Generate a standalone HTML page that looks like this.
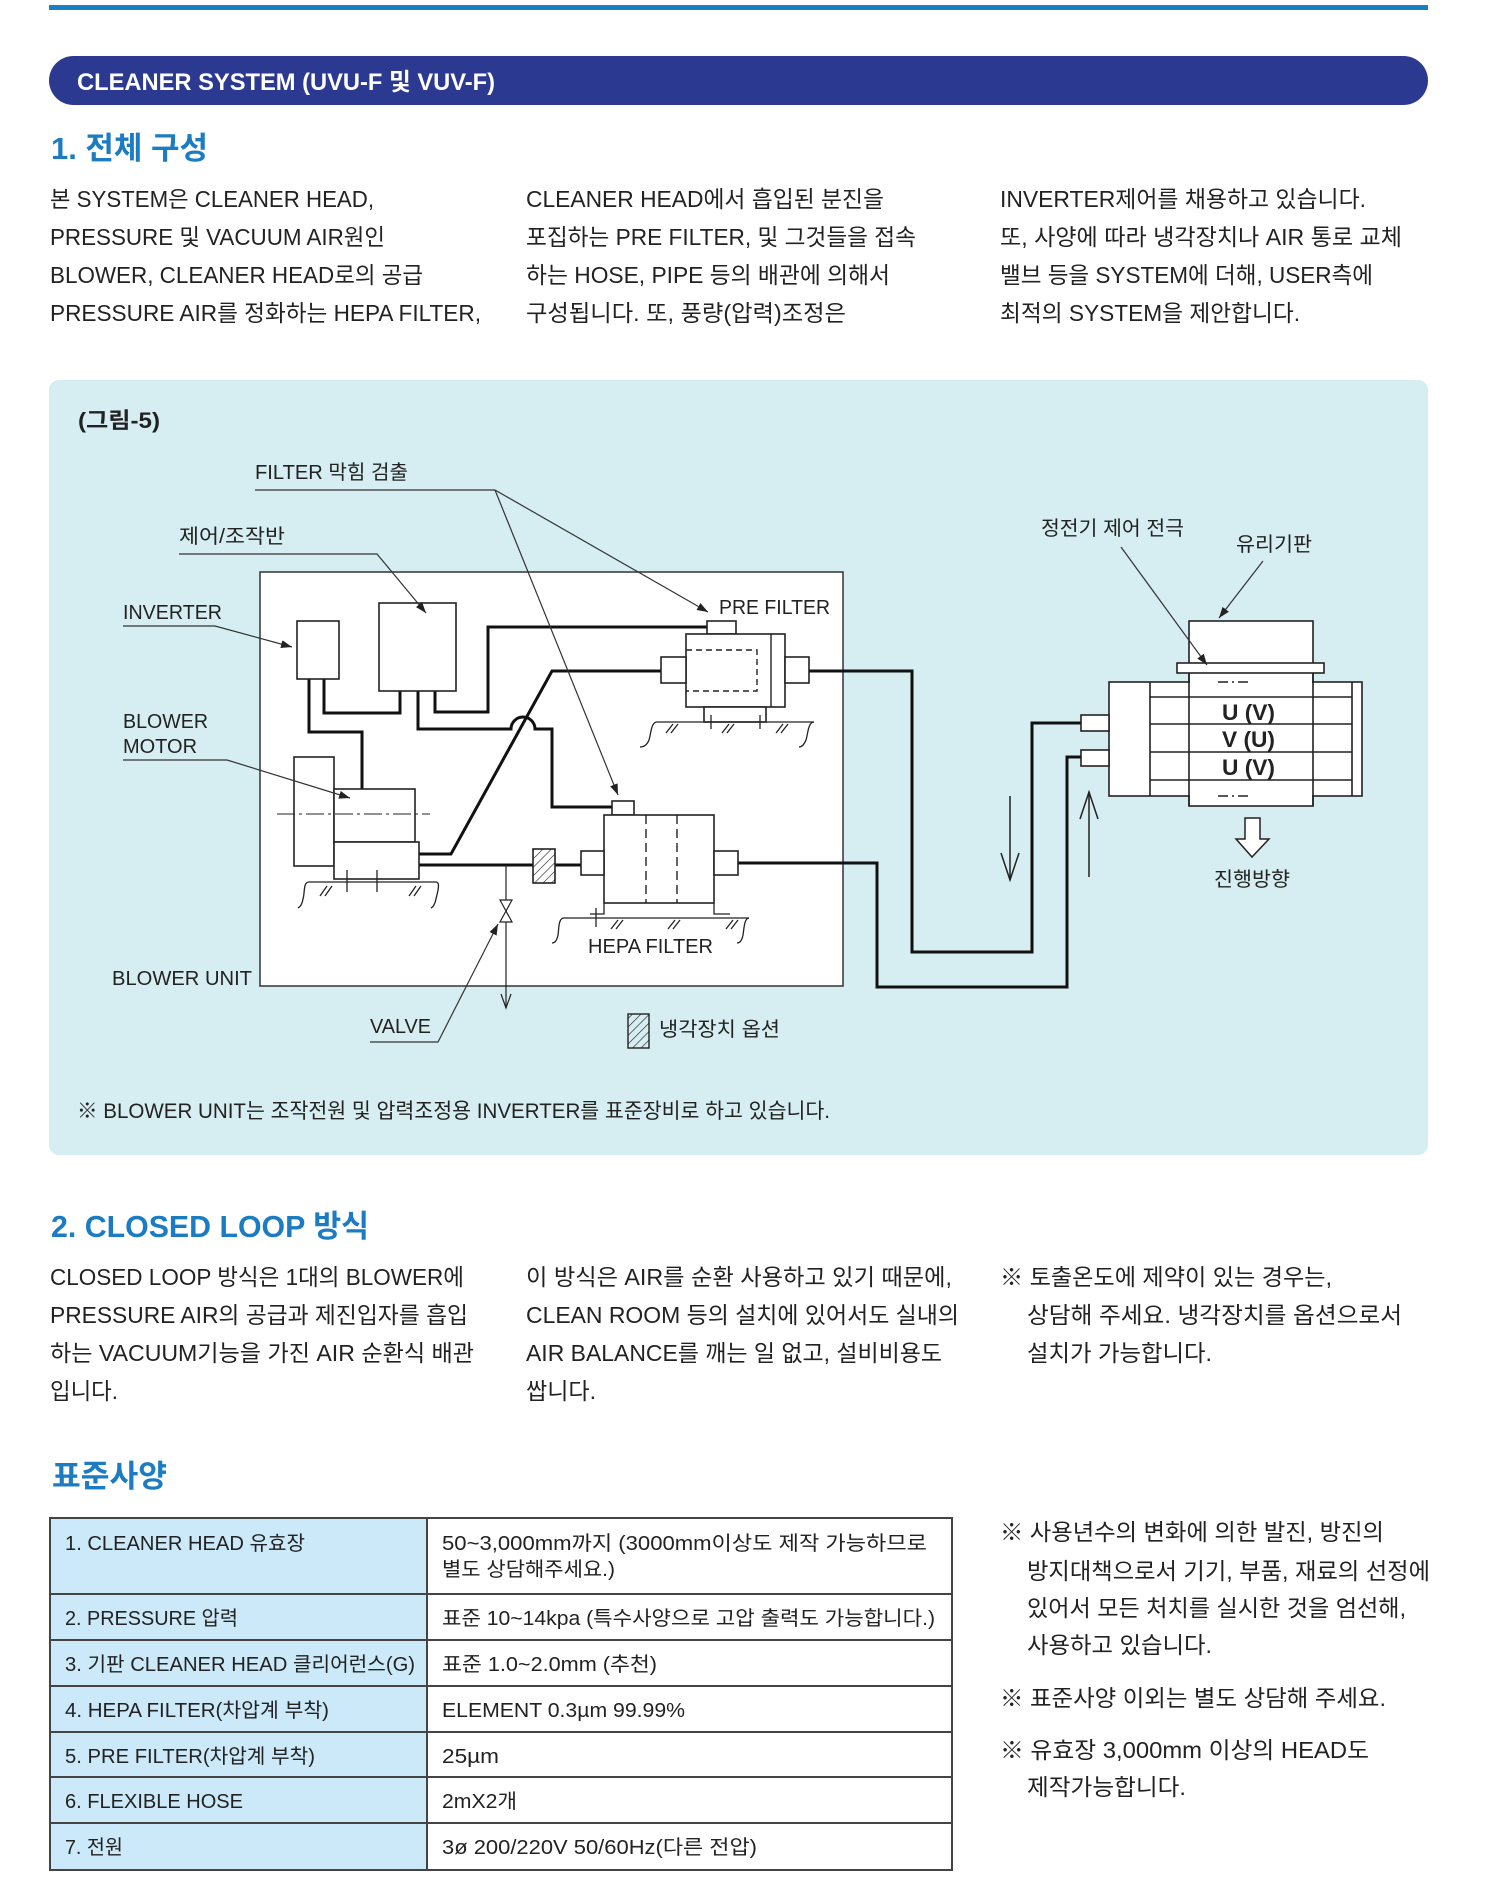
<!DOCTYPE html>
<html>
<head>
<meta charset="utf-8">
<style>
html,body{margin:0;padding:0;background:#fff;}
svg{display:block;}
text{font-family:"Liberation Sans","Noto Sans CJK KR",sans-serif;fill:#222;}
.b{font-size:23px;}
.t{font-size:20px;}
.n{font-size:21px;}
.d{font-size:20px;}
.h{font-size:31px;font-weight:bold;fill:#1b7cc3;}
</style>
</head>
<body>
<svg width="1500" height="1879" viewBox="0 0 1500 1879" xmlns="http://www.w3.org/2000/svg">
<defs>
<marker id="ah" markerWidth="11" markerHeight="8" refX="11" refY="4" orient="auto" markerUnits="userSpaceOnUse"><path d="M0,0 L11,4 L0,8 z" fill="#222"/></marker>
<pattern id="hatch" width="6" height="6" patternUnits="userSpaceOnUse" patternTransform="rotate(45)"><line x1="0" y1="0" x2="0" y2="6" stroke="#222" stroke-width="1.2"/></pattern>
</defs>

<!-- top line -->
<rect x="49" y="5" width="1379" height="5" fill="#1b7fc4"/>
<!-- title bar -->
<rect x="49" y="56" width="1379" height="49" rx="24.5" fill="#2b3990"/>
<text x="77" y="90" style="font-size:24px;font-weight:bold;fill:#fff" textLength="418" lengthAdjust="spacingAndGlyphs">CLEANER SYSTEM (UVU-F 및 VUV-F)</text>

<!-- heading 1 -->
<text class="h" x="51" y="159" textLength="157" lengthAdjust="spacingAndGlyphs">1. 전체 구성</text>

<!-- section 1 body -->
<text class="b" x="50" y="207" textLength="324" lengthAdjust="spacingAndGlyphs">본 SYSTEM은 CLEANER HEAD,</text>
<text class="b" x="50" y="245" textLength="335" lengthAdjust="spacingAndGlyphs">PRESSURE 및 VACUUM AIR원인</text>
<text class="b" x="50" y="283" textLength="373" lengthAdjust="spacingAndGlyphs">BLOWER, CLEANER HEAD로의 공급</text>
<text class="b" x="50" y="321" textLength="431" lengthAdjust="spacingAndGlyphs">PRESSURE AIR를 정화하는 HEPA FILTER,</text>

<text class="b" x="526" y="207" textLength="358" lengthAdjust="spacingAndGlyphs">CLEANER HEAD에서 흡입된 분진을</text>
<text class="b" x="526" y="245" textLength="390" lengthAdjust="spacingAndGlyphs">포집하는 PRE FILTER, 및 그것들을 접속</text>
<text class="b" x="526" y="283" textLength="364" lengthAdjust="spacingAndGlyphs">하는 HOSE, PIPE 등의 배관에 의해서</text>
<text class="b" x="526" y="321" textLength="320" lengthAdjust="spacingAndGlyphs">구성됩니다. 또, 풍량(압력)조정은</text>

<text class="b" x="1000" y="207" textLength="366" lengthAdjust="spacingAndGlyphs">INVERTER제어를 채용하고 있습니다.</text>
<text class="b" x="1000" y="245" textLength="402" lengthAdjust="spacingAndGlyphs">또, 사양에 따라 냉각장치나 AIR 통로 교체</text>
<text class="b" x="1000" y="283" textLength="373" lengthAdjust="spacingAndGlyphs">밸브 등을 SYSTEM에 더해, USER측에</text>
<text class="b" x="1000" y="321" textLength="300" lengthAdjust="spacingAndGlyphs">최적의 SYSTEM을 제안합니다.</text>

<!-- diagram panel -->
<rect x="49" y="380" width="1379" height="775" rx="10" fill="#d6edf2"/>
<text x="78" y="428" style="font-size:22px;font-weight:bold" textLength="82" lengthAdjust="spacingAndGlyphs">(그림-5)</text>

<!-- white box -->
<rect x="260" y="572" width="583" height="414" fill="#fff" stroke="#333" stroke-width="1.5"/>

<!-- labels -->
<text class="d" x="255" y="479" textLength="153" lengthAdjust="spacingAndGlyphs">FILTER 막힘 검출</text>
<text class="d" x="179" y="543" textLength="106" lengthAdjust="spacingAndGlyphs">제어/조작반</text>
<text class="d" x="123" y="619" textLength="99" lengthAdjust="spacingAndGlyphs">INVERTER</text>
<text class="d" x="123" y="728" textLength="85" lengthAdjust="spacingAndGlyphs">BLOWER</text>
<text class="d" x="123" y="753" textLength="74" lengthAdjust="spacingAndGlyphs">MOTOR</text>
<text class="d" x="112" y="985" textLength="140" lengthAdjust="spacingAndGlyphs">BLOWER UNIT</text>
<text class="d" x="719" y="614" textLength="111" lengthAdjust="spacingAndGlyphs">PRE FILTER</text>
<text class="d" x="588" y="953" textLength="125" lengthAdjust="spacingAndGlyphs">HEPA FILTER</text>
<text class="d" x="370" y="1033" textLength="61" lengthAdjust="spacingAndGlyphs">VALVE</text>
<text class="d" x="659" y="1036" textLength="121" lengthAdjust="spacingAndGlyphs">냉각장치 옵션</text>
<text class="d" x="1041" y="535" textLength="143" lengthAdjust="spacingAndGlyphs">정전기 제어 전극</text>
<text class="d" x="1236" y="551" textLength="76" lengthAdjust="spacingAndGlyphs">유리기판</text>
<text class="d" x="1214" y="886" textLength="76" lengthAdjust="spacingAndGlyphs">진행방향</text>

<!-- thick wires -->
<g stroke="#111" stroke-width="3" fill="none" stroke-linejoin="miter">
<path d="M309,679 V732 H362 V789"/>
<path d="M324,679 V713 H400 V691"/>
<path d="M418,691 V729 H511 A12,12 0 0 1 535,729 H552 V807 H612"/>
<path d="M435,691 V712 H488 V627 H707"/>
<path d="M419,854 H451 L552,671 H661"/>
<path d="M419,865 H533"/>
<path d="M555,865 H581"/>
<path d="M809,671 H912 V952 H1032 V723 H1081"/>
<path d="M738,863 H877 V987 H1067 V757 H1081"/>
</g>

<!-- boxes -->
<g stroke="#222" stroke-width="1.6" fill="#fff">
<rect x="297" y="621" width="42" height="58"/>
<rect x="379" y="603" width="77" height="88"/>
<rect x="294" y="757" width="40" height="109"/>
<rect x="334" y="789" width="81" height="53"/>
<rect x="334" y="842" width="85" height="37"/>
<!-- pre filter -->
<rect x="707" y="621" width="29" height="13"/>
<rect x="686" y="634" width="99" height="73"/>
<rect x="661" y="657" width="25" height="26"/>
<rect x="785" y="657" width="24" height="26"/>
<rect x="704" y="707" width="62" height="15"/>
<!-- hepa -->
<rect x="612" y="801" width="22" height="14"/>
<rect x="604" y="815" width="110" height="88"/>
<rect x="581" y="851" width="23" height="24"/>
<rect x="714" y="851" width="24" height="24"/>
</g>
<g stroke="#222" stroke-width="1.4" fill="none">
<line x1="771" y1="634" x2="771" y2="707"/>
<path d="M686,650 H757 V691 H686" stroke-dasharray="6 4"/>
<line x1="646" y1="815" x2="646" y2="903" stroke-dasharray="9 5"/>
<line x1="677" y1="815" x2="677" y2="903" stroke-dasharray="9 5"/>
<line x1="277" y1="814" x2="430" y2="814" stroke-dasharray="18 4 3 4" stroke-width="1.1"/>
</g>

<!-- cooling hatched boxes -->
<rect x="533" y="849" width="22" height="34" fill="url(#hatch)" stroke="#222" stroke-width="1.6"/>
<rect x="628" y="1014" width="21" height="34" fill="url(#hatch)" stroke="#222" stroke-width="1.4"/>

<!-- valve -->
<g stroke="#222" stroke-width="1.2" fill="none">
<line x1="506" y1="865" x2="506" y2="1008"/>
<path d="M500,900 H512 L500,922 H512 Z" fill="#fff"/>
<path d="M501,994 L506,1008 L511,994"/>
</g>

<!-- grounds -->
<g stroke="#222" stroke-width="1.3" fill="none">
<path d="M309,882 H436"/>
<path d="M309,882 C303,882 305,893 303,899 C302,905 300,907 298,908"/>
<path d="M436,882 C441,882 437,894 436,899 C435,904 433,907 431,908"/>
<line x1="347" y1="870" x2="347" y2="892"/>
<line x1="377" y1="870" x2="377" y2="892"/>
<path d="M320,896 L327,886 M325,896 L332,886 M409,896 L416,886 M414,896 L421,886"/>
<path d="M657,722 H814"/>
<path d="M657,722 C651,722 651,734 649,740 C647,745 644,747 640,747"/>
<path d="M814,722 C808,722 808,734 806,740 C804,745 802,747 799,747"/>
<line x1="711" y1="715" x2="711" y2="729"/>
<line x1="760" y1="715" x2="760" y2="729"/>
<path d="M666,733 L673,724 M671,733 L678,724 M722,733 L729,724 M727,733 L734,724 M776,733 L783,724 M781,733 L788,724"/>
<path d="M604,903 V914 H590 M714,903 V914 H730"/>
<path d="M564,918 H749"/>
<path d="M564,918 C558,918 559,930 558,935 C557,940 555,943 552,943"/>
<path d="M749,918 C744,918 744,930 743,935 C742,940 740,943 737,943"/>
<line x1="596" y1="908" x2="596" y2="927"/>
<path d="M611,929 L618,920 M616,929 L623,920 M668,929 L675,920 M673,929 L680,920 M726,929 L733,920 M731,929 L738,920"/>
</g>

<!-- cleaner head -->
<g stroke="#222" stroke-width="1.6">
<rect x="1189" y="621" width="124" height="185" fill="#fff"/>
<rect x="1109" y="682" width="253" height="114" fill="#fff"/>
<rect x="1081" y="715" width="28" height="16" fill="#fff"/>
<rect x="1081" y="750" width="28" height="16" fill="#fff"/>
<rect x="1177" y="663" width="147" height="10" fill="#fff"/>
</g>
<rect x="1190" y="680" width="122" height="4" fill="#fff"/>
<rect x="1190" y="794" width="122" height="4" fill="#fff"/>
<g stroke="#222" stroke-width="1.6" fill="none">
<line x1="1189" y1="673" x2="1189" y2="806"/>
<line x1="1313" y1="673" x2="1313" y2="806"/>
<line x1="1150" y1="682" x2="1150" y2="796"/>
<line x1="1352" y1="682" x2="1352" y2="796"/>
<line x1="1150" y1="697" x2="1352" y2="697"/>
<line x1="1150" y1="724" x2="1352" y2="724"/>
<line x1="1150" y1="752" x2="1352" y2="752"/>
<line x1="1150" y1="780" x2="1352" y2="780"/>
<path d="M1218,682 H1228 M1232,682 H1234 M1238,682 H1248 M1218,796 H1228 M1232,796 H1234 M1238,796 H1248"/>
</g>
<text x="1222" y="720" style="font-size:22px;font-weight:bold" textLength="53" lengthAdjust="spacingAndGlyphs">U (V)</text>
<text x="1222" y="747" style="font-size:22px;font-weight:bold" textLength="53" lengthAdjust="spacingAndGlyphs">V (U)</text>
<text x="1222" y="775" style="font-size:22px;font-weight:bold" textLength="53" lengthAdjust="spacingAndGlyphs">U (V)</text>

<!-- flow arrows -->
<g stroke="#222" stroke-width="1.5" fill="none">
<line x1="1010" y1="796" x2="1010" y2="880"/>
<path d="M1001,853 L1010,880 L1019,853"/>
<line x1="1089" y1="877" x2="1089" y2="792"/>
<path d="M1080,819 L1089,792 L1098,819"/>
<path d="M1245,818 H1260 V839 H1269 L1252,857 L1236,839 H1245 Z" fill="#fff"/>
</g>

<!-- leader lines (drawn on top) -->
<g stroke="#333" stroke-width="1.2" fill="none">
<path d="M255,490 H495"/>
<path d="M495,490 L708,612" marker-end="url(#ah)"/>
<path d="M495,490 L618,795" marker-end="url(#ah)"/>
<path d="M179,554 H377 L426,613" marker-end="url(#ah)"/>
<path d="M123,626 H215 L292,647" marker-end="url(#ah)"/>
<path d="M123,760 H227 L350,798" marker-end="url(#ah)"/>
<path d="M370,1042 H438 L498,924" marker-end="url(#ah)"/>
<path d="M1121,547 L1207,665" marker-end="url(#ah)"/>
<path d="M1263,561 L1219,618" marker-end="url(#ah)"/>
</g>

<!-- footnote -->
<text class="n" x="77" y="1118" textLength="753" lengthAdjust="spacingAndGlyphs">※ BLOWER UNIT는 조작전원 및 압력조정용 INVERTER를 표준장비로 하고 있습니다.</text>

<!-- heading 2 -->
<text class="h" x="51" y="1237" textLength="318" lengthAdjust="spacingAndGlyphs">2. CLOSED LOOP 방식</text>

<text class="b" x="50" y="1285" textLength="414" lengthAdjust="spacingAndGlyphs">CLOSED LOOP 방식은 1대의 BLOWER에</text>
<text class="b" x="50" y="1323" textLength="418" lengthAdjust="spacingAndGlyphs">PRESSURE AIR의 공급과 제진입자를 흡입</text>
<text class="b" x="50" y="1361" textLength="424" lengthAdjust="spacingAndGlyphs">하는 VACUUM기능을 가진 AIR 순환식 배관</text>
<text class="b" x="50" y="1399" textLength="68" lengthAdjust="spacingAndGlyphs">입니다.</text>

<text class="b" x="526" y="1285" textLength="426" lengthAdjust="spacingAndGlyphs">이 방식은 AIR를 순환 사용하고 있기 때문에,</text>
<text class="b" x="526" y="1323" textLength="433" lengthAdjust="spacingAndGlyphs">CLEAN ROOM 등의 설치에 있어서도 실내의</text>
<text class="b" x="526" y="1361" textLength="416" lengthAdjust="spacingAndGlyphs">AIR BALANCE를 깨는 일 없고, 설비비용도</text>
<text class="b" x="526" y="1399" textLength="70" lengthAdjust="spacingAndGlyphs">쌉니다.</text>

<text class="b" x="1000" y="1285" textLength="332" lengthAdjust="spacingAndGlyphs">※ 토출온도에 제약이 있는 경우는,</text>
<text class="b" x="1027" y="1323" textLength="375" lengthAdjust="spacingAndGlyphs">상담해 주세요. 냉각장치를 옵션으로서</text>
<text class="b" x="1027" y="1361" textLength="185" lengthAdjust="spacingAndGlyphs">설치가 가능합니다.</text>

<!-- heading 3 -->
<text class="h" x="52" y="1487" textLength="115" lengthAdjust="spacingAndGlyphs">표준사양</text>

<!-- table -->
<rect x="50" y="1518" width="377" height="352" fill="#cbe9f8"/>
<g stroke="#444" stroke-width="2" fill="none">
<rect x="50" y="1518" width="902" height="352"/>
<line x1="427" y1="1518" x2="427" y2="1870"/>
<line x1="50" y1="1594" x2="952" y2="1594"/>
<line x1="50" y1="1640" x2="952" y2="1640"/>
<line x1="50" y1="1686" x2="952" y2="1686"/>
<line x1="50" y1="1732" x2="952" y2="1732"/>
<line x1="50" y1="1777" x2="952" y2="1777"/>
<line x1="50" y1="1823" x2="952" y2="1823"/>
</g>
<text class="t" x="65" y="1550" textLength="240" lengthAdjust="spacingAndGlyphs">1. CLEANER HEAD 유효장</text>
<text class="t" x="65" y="1625" textLength="173" lengthAdjust="spacingAndGlyphs">2. PRESSURE 압력</text>
<text class="t" x="65" y="1671" textLength="350" lengthAdjust="spacingAndGlyphs">3. 기판 CLEANER HEAD 클리어런스(G)</text>
<text class="t" x="65" y="1717" textLength="264" lengthAdjust="spacingAndGlyphs">4. HEPA FILTER(차압계 부착)</text>
<text class="t" x="65" y="1763" textLength="250" lengthAdjust="spacingAndGlyphs">5. PRE FILTER(차압계 부착)</text>
<text class="t" x="65" y="1808" textLength="178" lengthAdjust="spacingAndGlyphs">6. FLEXIBLE HOSE</text>
<text class="t" x="65" y="1854" textLength="58" lengthAdjust="spacingAndGlyphs">7. 전원</text>

<text class="t" x="442" y="1550" textLength="485" lengthAdjust="spacingAndGlyphs">50~3,000mm까지 (3000mm이상도 제작 가능하므로</text>
<text class="t" x="442" y="1576" textLength="173" lengthAdjust="spacingAndGlyphs">별도 상담해주세요.)</text>
<text class="t" x="442" y="1625" textLength="493" lengthAdjust="spacingAndGlyphs">표준 10~14kpa (특수사양으로 고압 출력도 가능합니다.)</text>
<text class="t" x="442" y="1671" textLength="215" lengthAdjust="spacingAndGlyphs">표준 1.0~2.0mm (추천)</text>
<text class="t" x="442" y="1717" textLength="243" lengthAdjust="spacingAndGlyphs">ELEMENT 0.3µm 99.99%</text>
<text class="t" x="442" y="1763" textLength="57" lengthAdjust="spacingAndGlyphs">25µm</text>
<text class="t" x="442" y="1808" textLength="75" lengthAdjust="spacingAndGlyphs">2mX2개</text>
<text class="t" x="442" y="1854" textLength="315" lengthAdjust="spacingAndGlyphs">3ø 200/220V 50/60Hz(다른 전압)</text>

<!-- right notes -->
<text class="b" x="1000" y="1540" textLength="384" lengthAdjust="spacingAndGlyphs">※ 사용년수의 변화에 의한 발진, 방진의</text>
<text class="b" x="1027" y="1579" textLength="403" lengthAdjust="spacingAndGlyphs">방지대책으로서 기기, 부품, 재료의 선정에</text>
<text class="b" x="1027" y="1616" textLength="379" lengthAdjust="spacingAndGlyphs">있어서 모든 처치를 실시한 것을 엄선해,</text>
<text class="b" x="1027" y="1653" textLength="185" lengthAdjust="spacingAndGlyphs">사용하고 있습니다.</text>
<text class="b" x="1000" y="1706" textLength="386" lengthAdjust="spacingAndGlyphs">※ 표준사양 이외는 별도 상담해 주세요.</text>
<text class="b" x="1000" y="1758" textLength="369" lengthAdjust="spacingAndGlyphs">※ 유효장 3,000mm 이상의 HEAD도</text>
<text class="b" x="1027" y="1795" textLength="159" lengthAdjust="spacingAndGlyphs">제작가능합니다.</text>
</svg>
</body>
</html>
